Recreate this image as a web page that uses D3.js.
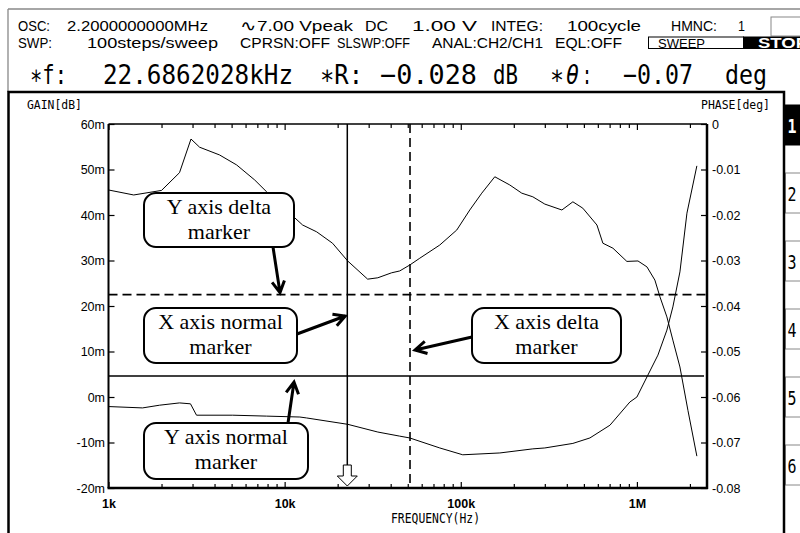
<!DOCTYPE html>
<html><head><meta charset="utf-8">
<script src="https://cdn.jsdelivr.net/npm/d3@7"></script>
<style>body{margin:0;background:#fff}svg{display:block}</style>
</head><body><svg id="c" width="800" height="533"></svg>
<script>
// Gain curve (left axis, mdB) vs frequency (Hz)
const gainFreq = [1000,1390,2000,2530,2940,3290,4270,5340,6760,7900,11250,12650,15200,18700,22800,29600,33800,40500,45000,51300,58500,76000,94900,112500,131600,156000,189800,222000,256500,300000,375000,433000,493000,593000,641000,731000,877000,1014000,1140000,1265000,1352000,1480000,1600000,1755000,1950000,2190000];
const gainMdB = [45.5,44.4,45.4,49.3,56.7,54.9,53.2,51.0,47.7,45.1,39.6,37.8,36.3,33.8,29.9,25.9,26.2,27.3,27.7,29.0,30.5,33.4,36.7,41.1,44.8,48.4,46.6,44.8,44.0,42.4,41.1,42.9,41.5,37.8,33.8,32.7,29.8,29.9,28.6,25.7,22.0,17.6,12.5,6.6,-3.0,-13.0];
// Phase curve (right axis, deg) vs frequency (Hz)
const phaseFreq = [1000,1560,1950,2530,2920,3160,5070,7900,12200,13300,22800,33800,45000,51300,76000,102600,166600,256500,300000,433000,541000,703000,912000,1000000,1140000,1316000,1480000,1600000,1755000,1923000,2190000];
const phaseDeg = [-0.0621,-0.0624,-0.0618,-0.0613,-0.0615,-0.0640,-0.0640,-0.0642,-0.0644,-0.0646,-0.0660,-0.0677,-0.0686,-0.0690,-0.0712,-0.0727,-0.0723,-0.0714,-0.0712,-0.0702,-0.0690,-0.0662,-0.0611,-0.0600,-0.0556,-0.0508,-0.0453,-0.0402,-0.0325,-0.0196,-0.0092];

const gainTicks = [-20,-10,0,10,20,30,40,50,60];
const gainTickLabels = ["-20m","-10m","0m","10m","20m","30m","40m","50m","60m"];
const phaseTicks = [0,-0.01,-0.02,-0.03,-0.04,-0.05,-0.06,-0.07,-0.08];
const phaseTickLabels = ["0","-0.01","-0.02","-0.03","-0.04","-0.05","-0.06","-0.07","-0.08"];
const freqTicks = [1e3,1e4,1e5,1e6];
const freqTickLabels = ["1k","10k","100k","1M"];

// Cursor markers
const markerFreqNormal = 22686.2028;
const markerFreqDelta = 51500;
const markerGainNormal = 4.6;
const markerGainDelta = 22.5;

const calloutTexts = [["Y axis delta","marker"],["X axis normal","marker"],["X axis delta","marker"],["Y axis normal","marker"]];
const buttonLabels = ["1","2","3","4","5","6"];

const svg = d3.select("#c");
svg.append("rect").attr("width",800).attr("height",533).attr("fill","#fff");

const MONO = "'DejaVu Sans Mono','Liberation Mono',monospace";
const SANS = "'Liberation Sans',Arial,sans-serif";
const SERIF = "'Liberation Serif','Times New Roman',serif";

function txt(g, x, y, s, len, size, o) {
  o = o || {};
  const t = g.append("text").attr("x", x).attr("y", y).text(s)
    .attr("font-family", o.family || MONO).attr("font-size", size)
    .attr("fill", o.fill || "#000").attr("font-weight", o.weight || "normal")
    .attr("font-style", o.style || "normal")
    .attr("xml:space","preserve");
  if (len) t.attr("textLength", len).attr("lengthAdjust", "spacingAndGlyphs");
  return t;
}

// ---- instrument header ----
const hdr = svg.append("g");
hdr.append("line").attr("x1",8).attr("y1",9).attr("x2",800).attr("y2",9).attr("stroke","#888").attr("stroke-width",1.3);
hdr.append("line").attr("x1",8).attr("y1",9).attr("x2",8).attr("y2",92).attr("stroke","#888").attr("stroke-width",1.3);
hdr.append("rect").attr("x",771).attr("y",17).attr("width",31).attr("height",19).attr("fill","#fff").attr("stroke","#888");

const row1 = [["OSC:",18,32],["2.2000000000MHz",67,141],["∿7.00 Vpeak",240,113],["DC",365,23],["1.00 V",412,65],["INTEG:",491,52],["100cycle",567,74],["HMNC:",671,46],["1",738,7]];
row1.forEach(d => txt(hdr, d[1], 30.5, d[0], d[2], 14.5, {family:SANS}));
const row2 = [["SWP:",18,34],["100steps/sweep",87,131],["CPRSN:OFF",240,90],["SLSWP:OFF",337,73],["ANAL:CH2/CH1",432,111],["EQL:OFF",555,67]];
row2.forEach(d => txt(hdr, d[1], 47.5, d[0], d[2], 14.5, {family:SANS}));
hdr.append("rect").attr("x",648.5).attr("y",37).attr("width",95).attr("height",11.5).attr("fill","#fff").attr("stroke","#000");
txt(hdr, 658, 47.5, "SWEEP", 47, 13.5, {family:SANS});
hdr.append("rect").attr("x",743).attr("y",36.5).attr("width",60).attr("height",12.5).attr("fill","#000");
txt(hdr, 758, 48, "STOP", 50, 14, {fill:"#fff", weight:"bold", family:SANS});

// measured readout line
const row3 = [["∗f:",30,37],["22.6862028kHz",103,190],["∗R:",320,43],["−0.028",380,97],["dB",493,25],["∗",550,14],["θ",566,13,"italic"],[":",582,10],["−0.07",623,70],["deg",725,42]];
row3.forEach(d => txt(hdr, d[1], 84, d[0], d[2], 27, {style: d[3]}));

// ---- right-hand soft keys ----
buttonLabels.forEach((b,i) => {
  const y = 105 + 68*i;
  svg.append("rect").attr("x",785.5).attr("y",y).attr("width",16).attr("height",40)
    .attr("fill", i===0 ? "#000" : "#fff").attr("stroke", i===0 ? "#000" : "#888");
  txt(svg, 787.5, y+28, b, 9, 20, {fill: i===0 ? "#fff" : "#000", weight: i===0 ? "bold" : "normal"});
});

// ---- graph panel ----
svg.append("path").attr("d","M8.5,540V92H784V540").attr("fill","none").attr("stroke","#000").attr("stroke-width",2.5);
txt(svg, 27, 108.5, "GAIN[dB]", 55, 12.5);
txt(svg, 701, 108.5, "PHASE[deg]", 69, 12.5);

const L = 108.5, R = 707, T = 124, B = 488;
const x = d3.scaleLog().domain([1e3, 2.5e6]).range([L, R]);
const yG = d3.scaleLinear().domain([-20, 60]).range([B, T]);
const yP = d3.scaleLinear().domain([-0.08, 0]).range([B, T]);

// minor decade ticks
const minorTicks = [];
for (let e = 3; e <= 6; e++) for (let m = 2; m <= 9; m++) { const v = m*Math.pow(10,e); if (v <= 2.5e6) minorTicks.push(v); }

function styleAxis(g, size, weight) {
  g.select(".domain").remove();
  g.selectAll(".tick line").attr("stroke","#000").attr("stroke-width",1.2);
  g.selectAll(".tick text").attr("font-family",SANS).attr("font-size",size).attr("font-weight",weight||"normal").attr("fill","#000");
}

styleAxis(svg.append("g").attr("transform",`translate(0,${B})`)
  .call(d3.axisBottom(x).tickValues(minorTicks).tickSize(-4).tickFormat("")));
styleAxis(svg.append("g").attr("transform",`translate(0,${T})`)
  .call(d3.axisTop(x).tickValues(minorTicks).tickSize(-4).tickFormat("")));
styleAxis(svg.append("g").attr("transform",`translate(0,${T})`)
  .call(d3.axisTop(x).tickValues(freqTicks).tickSize(-6).tickFormat("")));
styleAxis(svg.append("g").attr("transform",`translate(0,${B})`)
  .call(d3.axisBottom(x).tickValues(freqTicks).tickSize(-6).tickPadding(11).tickFormat((d,i)=>freqTickLabels[i])), 12.5, "bold");
styleAxis(svg.append("g").attr("transform",`translate(${L},0)`)
  .call(d3.axisLeft(yG).tickValues(gainTicks).tickSize(-6).tickPadding(3.5).tickFormat((d,i)=>gainTickLabels[i])), 12.5);
styleAxis(svg.append("g").attr("transform",`translate(${R},0)`)
  .call(d3.axisRight(yP).tickValues(phaseTicks).tickSize(-6).tickPadding(5).tickFormat((d,i)=>phaseTickLabels[i])), 12.5);

txt(svg, 391, 523, "FREQUENCY(Hz)", 89, 13.5);

// plot frame
svg.append("line").attr("x1",L).attr("x2",R).attr("y1",T).attr("y2",T).attr("stroke","#000").attr("stroke-width",1.3);
svg.append("line").attr("x1",L).attr("x2",L).attr("y1",T).attr("y2",B).attr("stroke","#000").attr("stroke-width",2);
svg.append("line").attr("x1",R).attr("x2",R).attr("y1",T).attr("y2",B+1).attr("stroke","#000").attr("stroke-width",2.5);
svg.append("line").attr("x1",L-1).attr("x2",R+1).attr("y1",B).attr("y2",B).attr("stroke","#000").attr("stroke-width",2.5);

// curves
const gainLine = d3.line().x((d,i)=>x(gainFreq[i])).y(d=>yG(d));
const phaseLine = d3.line().x((d,i)=>x(phaseFreq[i])).y(d=>yP(d));
svg.append("path").attr("d",gainLine(gainMdB)).attr("fill","none").attr("stroke","#000").attr("stroke-width",1);
svg.append("path").attr("d",phaseLine(phaseDeg)).attr("fill","none").attr("stroke","#000").attr("stroke-width",1);

// cursor lines
const xn = x(markerFreqNormal), xd = x(markerFreqDelta), yn = yG(markerGainNormal), yd = yG(markerGainDelta);
svg.append("line").attr("x1",L).attr("x2",R).attr("y1",yd).attr("y2",yd).attr("stroke","#000").attr("stroke-width",1.6).attr("stroke-dasharray","9,5");
svg.append("line").attr("x1",xd).attr("x2",xd).attr("y1",T).attr("y2",B).attr("stroke","#000").attr("stroke-width",1.6).attr("stroke-dasharray","9,5");
svg.append("line").attr("x1",L).attr("x2",R-3).attr("y1",yn).attr("y2",yn).attr("stroke","#000").attr("stroke-width",1.5);
svg.append("line").attr("x1",xn).attr("x2",xn).attr("y1",T).attr("y2",466).attr("stroke","#000").attr("stroke-width",1.5);
// hollow cursor arrow at the bottom
svg.append("path").attr("d",`M${xn-4},465H${xn+4}V476H${xn+10}L${xn},486L${xn-10},476H${xn-4}Z`)
  .attr("fill","#fff").attr("stroke","#000").attr("stroke-width",1);

// callouts
const boxes = [[144,193,150,54],[144,308,153,55],[472,308,149,55],[144,423,164,56]];
boxes.forEach((b,i) => {
  const g = svg.append("g");
  g.append("rect").attr("x",b[0]).attr("y",b[1]).attr("width",b[2]).attr("height",b[3]).attr("rx",12).attr("ry",12)
    .attr("fill","#fff").attr("stroke","#000").attr("stroke-width",2);
  calloutTexts[i].forEach((s,j) => {
    g.append("text").attr("x",b[0]+b[2]/2).attr("y",b[1]+21+j*24.5).attr("text-anchor","middle")
      .attr("font-family",SERIF).attr("font-size",22).text(s);
  });
});

function arrow(x1,y1,x2,y2) {
  const a = Math.atan2(y2-y1, x2-x1), h = 13, s = 0.5;
  const p = `M${x1},${y1}L${x2},${y2}M${x2-h*Math.cos(a-s)},${y2-h*Math.sin(a-s)}L${x2},${y2}L${x2-h*Math.cos(a+s)},${y2-h*Math.sin(a+s)}`;
  svg.append("path").attr("d",p).attr("fill","none").attr("stroke","#000").attr("stroke-width",3).attr("stroke-linejoin","miter");
}
arrow(273, 247, 280, yd-2);
arrow(297, 334, xn-2, 316);
arrow(472, 337, xd+5, 350);
arrow(288, 423, 294, yn+6);
</script></body></html>
